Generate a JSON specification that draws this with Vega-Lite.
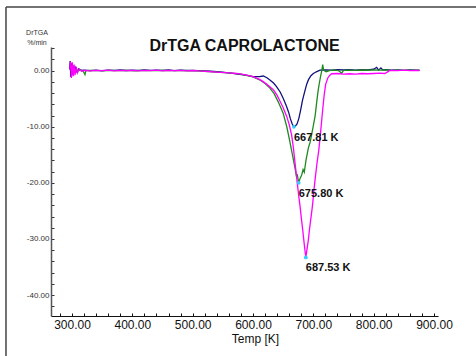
{
  "$schema": "https://vega.github.io/schema/vega-lite/v6.json",
  "width": 387,
  "height": 269,
  "autosize": {"type": "none"},
  "padding": {"left": 51, "top": 47, "right": 38, "bottom": 40},
  "background": "white",
  "config": {
    "view": {"stroke": null},
    "font": "Liberation Sans"
  },
  "title": {
    "text": "DrTGA CAPROLACTONE",
    "fontSize": 16,
    "fontWeight": "bold",
    "font": "Liberation Sans",
    "color": "#111111",
    "anchor": "middle",
    "baseline": "alphabetic",
    "offset": 0,
    "dy": 61
  },
  "datasets": {
    "curves": [
      {"sample": "1", "T": 296, "v": 0.2},
      {"sample": "1", "T": 297, "v": 1.7},
      {"sample": "1", "T": 298, "v": -1.1},
      {"sample": "1", "T": 299.5, "v": 1.3},
      {"sample": "1", "T": 301, "v": -0.7},
      {"sample": "1", "T": 302.5, "v": 0.9},
      {"sample": "1", "T": 304, "v": -0.4},
      {"sample": "1", "T": 306, "v": 0.5},
      {"sample": "1", "T": 308, "v": -0.2},
      {"sample": "1", "T": 311, "v": 0.3},
      {"sample": "1", "T": 315, "v": 0.05},
      {"sample": "1", "T": 320, "v": 0.1},
      {"sample": "1", "T": 330, "v": 0.02},
      {"sample": "1", "T": 340, "v": 0.08},
      {"sample": "1", "T": 350, "v": -0.02},
      {"sample": "1", "T": 360, "v": 0.1},
      {"sample": "1", "T": 370, "v": 0.04},
      {"sample": "1", "T": 380, "v": 0.12},
      {"sample": "1", "T": 390, "v": 0.03},
      {"sample": "1", "T": 400, "v": 0.09},
      {"sample": "1", "T": 410, "v": 0.05},
      {"sample": "1", "T": 420, "v": 0.14},
      {"sample": "1", "T": 430, "v": 0.04},
      {"sample": "1", "T": 440, "v": 0.1},
      {"sample": "1", "T": 450, "v": 0.06},
      {"sample": "1", "T": 460, "v": 0.13},
      {"sample": "1", "T": 470, "v": 0.02},
      {"sample": "1", "T": 480, "v": 0.1},
      {"sample": "1", "T": 490, "v": 0.05},
      {"sample": "1", "T": 500, "v": 0.07},
      {"sample": "1", "T": 510, "v": 0.0},
      {"sample": "1", "T": 520, "v": -0.05},
      {"sample": "1", "T": 530, "v": -0.1},
      {"sample": "1", "T": 545, "v": -0.2},
      {"sample": "1", "T": 560, "v": -0.4},
      {"sample": "1", "T": 575, "v": -0.6},
      {"sample": "1", "T": 590, "v": -0.85},
      {"sample": "1", "T": 600, "v": -1.05},
      {"sample": "1", "T": 611, "v": -1.05},
      {"sample": "1", "T": 617, "v": -0.95},
      {"sample": "1", "T": 623, "v": -1.25},
      {"sample": "1", "T": 628, "v": -1.66},
      {"sample": "1", "T": 634, "v": -2.2},
      {"sample": "1", "T": 639, "v": -2.85},
      {"sample": "1", "T": 645, "v": -3.8},
      {"sample": "1", "T": 650, "v": -4.9},
      {"sample": "1", "T": 655, "v": -6.2},
      {"sample": "1", "T": 659, "v": -7.4},
      {"sample": "1", "T": 662, "v": -8.6},
      {"sample": "1", "T": 665, "v": -9.5},
      {"sample": "1", "T": 667.81, "v": -10.0},
      {"sample": "1", "T": 670, "v": -9.9},
      {"sample": "1", "T": 673, "v": -9.5},
      {"sample": "1", "T": 676, "v": -8.5},
      {"sample": "1", "T": 679, "v": -7.0},
      {"sample": "1", "T": 682, "v": -5.3},
      {"sample": "1", "T": 686, "v": -3.6},
      {"sample": "1", "T": 689, "v": -2.4},
      {"sample": "1", "T": 692, "v": -1.6},
      {"sample": "1", "T": 696, "v": -0.9},
      {"sample": "1", "T": 700, "v": -0.5},
      {"sample": "1", "T": 705, "v": -0.2},
      {"sample": "1", "T": 711, "v": 0.1},
      {"sample": "1", "T": 720, "v": 0.15},
      {"sample": "1", "T": 730, "v": 0.1},
      {"sample": "1", "T": 740, "v": 0.2},
      {"sample": "1", "T": 750, "v": 0.12},
      {"sample": "1", "T": 760, "v": 0.18},
      {"sample": "1", "T": 770, "v": 0.1},
      {"sample": "1", "T": 780, "v": 0.2},
      {"sample": "1", "T": 790, "v": 0.15},
      {"sample": "1", "T": 800, "v": 0.25},
      {"sample": "1", "T": 805, "v": 0.6},
      {"sample": "1", "T": 808, "v": 0.1},
      {"sample": "1", "T": 812, "v": 0.5},
      {"sample": "1", "T": 815, "v": 0.15},
      {"sample": "1", "T": 820, "v": 0.2},
      {"sample": "1", "T": 830, "v": 0.1},
      {"sample": "1", "T": 840, "v": 0.15},
      {"sample": "1", "T": 850, "v": 0.05},
      {"sample": "1", "T": 860, "v": 0.12},
      {"sample": "1", "T": 870, "v": 0.08},
      {"sample": "1", "T": 876, "v": 0.1},

      {"sample": "2", "T": 300, "v": 0.2},
      {"sample": "2", "T": 302, "v": -0.3},
      {"sample": "2", "T": 305, "v": 0.2},
      {"sample": "2", "T": 310, "v": 0.0},
      {"sample": "2", "T": 316, "v": 0.1},
      {"sample": "2", "T": 319, "v": -0.2},
      {"sample": "2", "T": 321.5, "v": -0.7},
      {"sample": "2", "T": 323, "v": 0.0},
      {"sample": "2", "T": 330, "v": 0.05},
      {"sample": "2", "T": 345, "v": 0.0},
      {"sample": "2", "T": 360, "v": 0.06},
      {"sample": "2", "T": 375, "v": 0.02},
      {"sample": "2", "T": 390, "v": 0.05},
      {"sample": "2", "T": 405, "v": -0.02},
      {"sample": "2", "T": 420, "v": 0.04},
      {"sample": "2", "T": 435, "v": 0.01},
      {"sample": "2", "T": 450, "v": 0.05},
      {"sample": "2", "T": 465, "v": 0.0},
      {"sample": "2", "T": 480, "v": 0.03},
      {"sample": "2", "T": 495, "v": -0.02},
      {"sample": "2", "T": 510, "v": -0.05},
      {"sample": "2", "T": 520, "v": -0.1},
      {"sample": "2", "T": 540, "v": -0.25},
      {"sample": "2", "T": 560, "v": -0.4},
      {"sample": "2", "T": 580, "v": -0.6},
      {"sample": "2", "T": 600, "v": -1.1},
      {"sample": "2", "T": 612, "v": -1.7},
      {"sample": "2", "T": 620, "v": -2.3},
      {"sample": "2", "T": 628, "v": -3.1},
      {"sample": "2", "T": 635, "v": -4.1},
      {"sample": "2", "T": 642, "v": -5.6},
      {"sample": "2", "T": 650, "v": -7.6},
      {"sample": "2", "T": 656, "v": -10.0},
      {"sample": "2", "T": 661, "v": -12.6},
      {"sample": "2", "T": 665, "v": -14.8},
      {"sample": "2", "T": 669, "v": -17.0},
      {"sample": "2", "T": 672, "v": -18.8},
      {"sample": "2", "T": 673.5, "v": -18.6},
      {"sample": "2", "T": 675.8, "v": -20.0},
      {"sample": "2", "T": 678, "v": -19.2},
      {"sample": "2", "T": 680.7, "v": -18.6},
      {"sample": "2", "T": 683, "v": -17.6},
      {"sample": "2", "T": 685, "v": -18.1},
      {"sample": "2", "T": 687.9, "v": -15.9},
      {"sample": "2", "T": 691.7, "v": -13.8},
      {"sample": "2", "T": 694.5, "v": -12.8},
      {"sample": "2", "T": 697.3, "v": -11.3},
      {"sample": "2", "T": 700, "v": -9.8},
      {"sample": "2", "T": 703, "v": -8.0},
      {"sample": "2", "T": 706, "v": -5.2},
      {"sample": "2", "T": 708, "v": -3.5},
      {"sample": "2", "T": 710, "v": -2.2},
      {"sample": "2", "T": 712, "v": -1.0},
      {"sample": "2", "T": 714, "v": 0.0},
      {"sample": "2", "T": 715.5, "v": 1.1},
      {"sample": "2", "T": 717, "v": 0.1},
      {"sample": "2", "T": 721, "v": -0.2},
      {"sample": "2", "T": 728, "v": 0.05},
      {"sample": "2", "T": 735, "v": 0.1},
      {"sample": "2", "T": 742, "v": 0.0},
      {"sample": "2", "T": 747, "v": -0.45},
      {"sample": "2", "T": 750, "v": 0.05},
      {"sample": "2", "T": 760, "v": 0.1},
      {"sample": "2", "T": 770, "v": 0.05},
      {"sample": "2", "T": 780, "v": 0.12},
      {"sample": "2", "T": 790, "v": 0.08},
      {"sample": "2", "T": 800, "v": 0.15},
      {"sample": "2", "T": 810, "v": 0.1},
      {"sample": "2", "T": 820, "v": 0.12},
      {"sample": "2", "T": 830, "v": 0.06},
      {"sample": "2", "T": 840, "v": 0.1},
      {"sample": "2", "T": 850, "v": 0.04},
      {"sample": "2", "T": 860, "v": 0.08},
      {"sample": "2", "T": 870, "v": 0.05},
      {"sample": "2", "T": 876, "v": 0.06},

      {"sample": "3", "T": 296.5, "v": 0.3},
      {"sample": "3", "T": 297.5, "v": 1.6},
      {"sample": "3", "T": 299, "v": -1.3},
      {"sample": "3", "T": 300.5, "v": 1.5},
      {"sample": "3", "T": 302, "v": -1.0},
      {"sample": "3", "T": 303.5, "v": 1.1},
      {"sample": "3", "T": 305, "v": -0.8},
      {"sample": "3", "T": 307, "v": 0.7},
      {"sample": "3", "T": 309, "v": -0.4},
      {"sample": "3", "T": 312, "v": 0.3},
      {"sample": "3", "T": 316, "v": -0.1},
      {"sample": "3", "T": 322, "v": 0.05},
      {"sample": "3", "T": 330, "v": -0.03},
      {"sample": "3", "T": 340, "v": 0.06},
      {"sample": "3", "T": 350, "v": 0.0},
      {"sample": "3", "T": 360, "v": 0.08},
      {"sample": "3", "T": 370, "v": -0.02},
      {"sample": "3", "T": 380, "v": 0.05},
      {"sample": "3", "T": 390, "v": 0.0},
      {"sample": "3", "T": 400, "v": 0.07},
      {"sample": "3", "T": 410, "v": -0.02},
      {"sample": "3", "T": 420, "v": 0.05},
      {"sample": "3", "T": 430, "v": 0.02},
      {"sample": "3", "T": 440, "v": 0.08},
      {"sample": "3", "T": 450, "v": -0.03},
      {"sample": "3", "T": 460, "v": 0.04},
      {"sample": "3", "T": 470, "v": 0.0},
      {"sample": "3", "T": 480, "v": 0.06},
      {"sample": "3", "T": 490, "v": -0.02},
      {"sample": "3", "T": 500, "v": 0.03},
      {"sample": "3", "T": 510, "v": -0.05},
      {"sample": "3", "T": 520, "v": -0.1},
      {"sample": "3", "T": 540, "v": -0.25},
      {"sample": "3", "T": 560, "v": -0.4},
      {"sample": "3", "T": 573, "v": -0.5},
      {"sample": "3", "T": 588, "v": -0.75},
      {"sample": "3", "T": 600, "v": -1.05},
      {"sample": "3", "T": 610, "v": -1.5},
      {"sample": "3", "T": 617, "v": -1.95},
      {"sample": "3", "T": 625, "v": -2.6},
      {"sample": "3", "T": 634, "v": -3.45},
      {"sample": "3", "T": 640, "v": -4.4},
      {"sample": "3", "T": 645, "v": -5.5},
      {"sample": "3", "T": 650, "v": -6.6},
      {"sample": "3", "T": 656, "v": -8.2},
      {"sample": "3", "T": 660, "v": -9.6},
      {"sample": "3", "T": 664, "v": -11.5},
      {"sample": "3", "T": 667, "v": -13.8},
      {"sample": "3", "T": 670, "v": -16.8},
      {"sample": "3", "T": 673.4, "v": -20.1},
      {"sample": "3", "T": 676, "v": -22.5},
      {"sample": "3", "T": 678, "v": -24.2},
      {"sample": "3", "T": 680, "v": -26.2},
      {"sample": "3", "T": 682.4, "v": -28.4},
      {"sample": "3", "T": 685, "v": -31.0},
      {"sample": "3", "T": 687.53, "v": -33.3},
      {"sample": "3", "T": 689.5, "v": -31.8},
      {"sample": "3", "T": 691.7, "v": -30.2},
      {"sample": "3", "T": 693.5, "v": -28.4},
      {"sample": "3", "T": 695.6, "v": -26.6},
      {"sample": "3", "T": 697.5, "v": -25.0},
      {"sample": "3", "T": 699, "v": -23.6},
      {"sample": "3", "T": 701, "v": -21.3},
      {"sample": "3", "T": 702.8, "v": -19.5},
      {"sample": "3", "T": 706, "v": -16.5},
      {"sample": "3", "T": 709, "v": -14.2},
      {"sample": "3", "T": 712, "v": -11.0},
      {"sample": "3", "T": 715, "v": -7.5},
      {"sample": "3", "T": 718, "v": -4.3},
      {"sample": "3", "T": 720.5, "v": -2.4},
      {"sample": "3", "T": 724, "v": -1.3},
      {"sample": "3", "T": 727, "v": -0.85},
      {"sample": "3", "T": 730.5, "v": -0.55},
      {"sample": "3", "T": 740, "v": -0.5},
      {"sample": "3", "T": 750, "v": -0.6},
      {"sample": "3", "T": 760, "v": -0.55},
      {"sample": "3", "T": 770, "v": -0.6},
      {"sample": "3", "T": 780, "v": -0.5},
      {"sample": "3", "T": 790, "v": -0.55},
      {"sample": "3", "T": 800, "v": -0.5},
      {"sample": "3", "T": 810, "v": -0.45},
      {"sample": "3", "T": 818, "v": -0.5},
      {"sample": "3", "T": 822, "v": -0.3},
      {"sample": "3", "T": 826, "v": 0.0},
      {"sample": "3", "T": 830, "v": 0.05},
      {"sample": "3", "T": 840, "v": 0.02},
      {"sample": "3", "T": 850, "v": 0.08},
      {"sample": "3", "T": 860, "v": 0.0},
      {"sample": "3", "T": 870, "v": 0.05},
      {"sample": "3", "T": 876, "v": 0.02}
    ],
    "peaks": [
      {"sample": "1", "T": 667.81, "v": -10.0, "label": "667.81 K"},
      {"sample": "2", "T": 675.80, "v": -20.0, "label": "675.80 K"},
      {"sample": "3", "T": 687.53, "v": -33.3, "label": "687.53 K"}
    ],
    "frame": [{"edge": "outer"}]
  },
  "layer": [
    {
      "data": {"name": "curves"},
      "transform": [{"filter": "datum.sample === '1'"}],
      "mark": {"type": "line", "color": "#12127f", "strokeWidth": 1.3},
      "encoding": {
        "x": {
          "field": "T", "type": "quantitative",
          "scale": {"domain": [265.2, 906.6], "nice": false, "zero": false},
          "axis": {
            "values": [280, 300, 320, 340, 360, 380, 400, 420, 440, 460, 480, 500, 520, 540, 560, 580, 600, 620, 640, 660, 680, 700, 720, 740, 760, 780, 800, 820, 840, 860, 880, 900],
            "tickCount": 1000,
            "labelExpr": "datum.value % 100 === 0 ? format(datum.value, '.2f') : ''",
            "labelOverlap": false,
            "labelFlush": false,
            "labelFontSize": 12,
            "labelColor": "#111111",
            "labelPadding": 6,
            "tickSize": -3,
            "tickColor": "#111111",
            "domainColor": "#111111",
            "domainWidth": 1,
            "grid": false,
            "title": "Temp  [K]",
            "titleFontSize": 12,
            "titleFontWeight": "normal",
            "titleColor": "#111111",
            "titleX": 204,
            "titleY": 26,
            "titleAlign": "center",
            "titleBaseline": "alphabetic"
          }
        },
        "y": {
          "field": "v", "type": "quantitative",
          "scale": {"domain": [-43.73, 4.22], "nice": false, "zero": false},
          "axis": {
            "values": [-42, -40, -38, -36, -34, -32, -30, -28, -26, -24, -22, -20, -18, -16, -14, -12, -10, -8, -6, -4, -2, 0, 2, 4],
            "tickCount": 1000,
            "labelExpr": "datum.value % 10 === 0 ? (datum.value < 0 ? '-' : '') + format(abs(datum.value), '.2f') : ''",
            "labelOverlap": false,
            "labelFlush": false,
            "labelFontSize": 8,
            "labelColor": "#333333",
            "labelPadding": 5,
            "tickSize": -3,
            "tickColor": "#333333",
            "domainColor": "#555555",
            "domainWidth": 1.5,
            "grid": false,
            "title": ["DrTGA", "%/min"],
            "titleAngle": 0,
            "titleFontSize": 7,
            "titleFontWeight": "normal",
            "titleColor": "#333333",
            "titleX": -14.5,
            "titleY": -13,
            "titleAlign": "center",
            "titleBaseline": "alphabetic",
            "titleLineHeight": 10
          }
        }
      }
    },
    {
      "data": {"name": "curves"},
      "transform": [{"filter": "datum.sample === '2'"}],
      "mark": {"type": "line", "color": "#1f8a1f", "strokeWidth": 1.3},
      "encoding": {
        "x": {"field": "T", "type": "quantitative", "scale": {"domain": [265.2, 906.6], "nice": false, "zero": false}},
        "y": {"field": "v", "type": "quantitative", "scale": {"domain": [-43.73, 4.22], "nice": false, "zero": false}}
      }
    },
    {
      "data": {"name": "curves"},
      "transform": [{"filter": "datum.sample === '3'"}],
      "mark": {"type": "line", "color": "#ff00ff", "strokeWidth": 1.3},
      "encoding": {
        "x": {"field": "T", "type": "quantitative", "scale": {"domain": [265.2, 906.6], "nice": false, "zero": false}},
        "y": {"field": "v", "type": "quantitative", "scale": {"domain": [-43.73, 4.22], "nice": false, "zero": false}}
      }
    },
    {
      "data": {"name": "peaks"},
      "mark": {"type": "point", "filled": true, "color": "#33ccff", "size": 14, "opacity": 1},
      "encoding": {
        "x": {"field": "T", "type": "quantitative", "scale": {"domain": [265.2, 906.6], "nice": false, "zero": false}},
        "y": {"field": "v", "type": "quantitative", "scale": {"domain": [-43.73, 4.22], "nice": false, "zero": false}}
      }
    },
    {
      "data": {"name": "peaks"},
      "mark": {"type": "text", "align": "left", "baseline": "top", "dx": 0, "dy": 5, "fontSize": 11, "fontWeight": "bold", "font": "Liberation Sans", "color": "#111111"},
      "encoding": {
        "x": {"field": "T", "type": "quantitative", "scale": {"domain": [265.2, 906.6], "nice": false, "zero": false}},
        "y": {"field": "v", "type": "quantitative", "scale": {"domain": [-43.73, 4.22], "nice": false, "zero": false}},
        "text": {"field": "label"}
      }
    },
    {
      "data": {"name": "frame"},
      "mark": {"type": "rule", "color": "#444444", "strokeWidth": 1.5},
      "encoding": {
        "x": {"datum": 190.6, "type": "quantitative", "scale": {"domain": [265.2, 906.6], "nice": false, "zero": false}},
        "y": {"datum": 11.35, "type": "quantitative", "scale": {"domain": [-43.73, 4.22], "nice": false, "zero": false}},
        "y2": {"datum": -80}
      }
    },
    {
      "data": {"name": "frame"},
      "mark": {"type": "rule", "color": "#444444", "strokeWidth": 1.5},
      "encoding": {
        "x": {"datum": 190.6, "type": "quantitative", "scale": {"domain": [265.2, 906.6], "nice": false, "zero": false}},
        "x2": {"datum": 1400},
        "y": {"datum": 11.35, "type": "quantitative", "scale": {"domain": [-43.73, 4.22], "nice": false, "zero": false}}
      }
    }
  ]
}
